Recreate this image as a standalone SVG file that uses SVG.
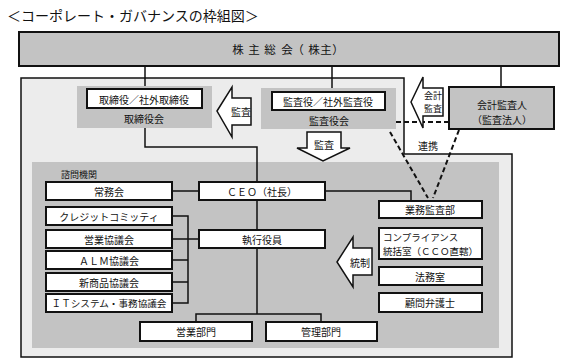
<svg xmlns="http://www.w3.org/2000/svg" width="567" height="364" viewBox="0 0 567 364">
<style>
text{font-family:"Noto Sans CJK JP","Noto Sans CJK SC",sans-serif;font-size:10px;fill:#111;dominant-baseline:central;text-anchor:middle}
.box{fill:#fff;stroke:#111;stroke-width:2}
.gbox{fill:#c3c3c3;stroke:#111;stroke-width:2}
.grp{fill:#c3c3c3}
.ln{fill:none;stroke:#111;stroke-width:1.5}
.dash{fill:none;stroke:#111;stroke-width:2;stroke-dasharray:5 3}
.arr{fill:#fff;stroke:#111;stroke-width:1.5;stroke-linejoin:miter}
</style>
<rect width="567" height="364" fill="#fff"/>
<text x="7" y="15" style="font-size:14px;text-anchor:start">＜コーポレート・ガバナンスの枠組図＞</text>

<g id="frame">
<path d="M21,78 H404 V154 H512 V357 H21 Z" fill="#ececec" stroke="#111" stroke-width="1.5"/>
<rect x="32" y="162" width="467" height="186" class="grp"/>
<text x="61" y="174" style="font-size:9px;text-anchor:start">諮問機関</text>
</g>

<g id="agm">
<rect x="19" y="32" width="540" height="34" class="gbox"/>
<text y="49" x="238 254 270 287 298 314 326 338" style="text-anchor:middle;font-size:11.5px">株主総会（株主）</text>
</g>

<g id="connectors">
<path class="ln" d="M145,66 V89 M332,66 V92 M501,66 V87"/>
<path class="ln" d="M145,128 V147 H257 V182"/>
<path class="ln" d="M257,200 V230 M257,248 V314 M196,322 V314 H321 V322"/>
<path class="ln" d="M172,191 H199 M325,191 H411 V201"/>
<path class="ln" d="M172,216 H188 V303 H172 M172,239 H199 M172,260 H188 M172,282 H188"/>
<path class="dash" d="M396,122 H449"/>
<path class="dash" d="M390,132 L428,198 M459,130 L433,198"/>
<text x="428" y="145">連携</text>
</g>

<g id="board">
<rect x="77" y="86" width="135" height="42" class="grp"/>
<rect x="87" y="89" width="115" height="19" class="box"/>
<text x="144" y="99">取締役／社外取締役</text>
<text x="144" y="118">取締役会</text>
</g>

<g id="kansayakukai">
<rect x="261" y="88" width="135" height="41" class="grp"/>
<rect x="272" y="92" width="113" height="18" class="box"/>
<text x="328" y="101">監査役／社外監査役</text>
<text x="329" y="120">監査役会</text>
</g>

<g id="auditor">
<rect x="449" y="87" width="105" height="42" class="gbox"/>
<text x="502" y="104">会計監査人</text>
<text x="502" y="119">（監査法人）</text>
</g>

<g id="arrow-kansa-left">
<path class="arr" d="M217,111 L232,87 V98 H251 V125 H232 V137 Z"/>
<text x="241" y="111">監査</text>
</g>
<g id="arrow-kansa-down">
<path class="arr" d="M307,132 H341 V148 H350 L323,161 L297,148 H307 Z"/>
<text x="324" y="144">監査</text>
</g>
<g id="arrow-kaikei">
<path class="arr" d="M411,102 L423,77 V88 H443 V116 H423 V128 Z"/>
<text x="433" y="95" style="font-size:9px">会計</text>
<text x="433" y="108" style="font-size:9px">監査</text>
</g>
<g id="arrow-tousei">
<path class="arr" d="M337,262 L353,237 V248 H372 V275 H353 V287 Z"/>
<text x="360" y="262">統制</text>
</g>

<g id="joumukai"><rect x="46" y="182" width="126" height="18" class="box"/><text x="109" y="191">常務会</text></g>
<g id="credit"><rect x="46" y="207" width="126" height="18" class="box"/><text x="109" y="216">クレジットコミッティ</text></g>
<g id="eigyo-kyogi"><rect x="46" y="230" width="126" height="18" class="box"/><text x="109" y="239">営業協議会</text></g>
<g id="alm"><rect x="46" y="251" width="126" height="18" class="box"/><text x="109" y="260">ＡＬＭ協議会</text></g>
<g id="shinshohin"><rect x="46" y="273" width="126" height="18" class="box"/><text x="109" y="282">新商品協議会</text></g>
<g id="it"><rect x="46" y="294" width="126" height="18" class="box"/><text x="109" y="303" style="font-size:9.6px">ＩＴシステム・事務協議会</text></g>

<g id="ceo"><rect x="199" y="182" width="126" height="18" class="box"/><text x="262" y="191">ＣＥＯ（社長）</text></g>
<g id="shikko"><rect x="199" y="230" width="126" height="18" class="box"/><text x="262" y="239">執行役員</text></g>

<g id="eigyobumon"><rect x="140" y="322" width="112" height="19" class="box"/><text x="196" y="331.5">営業部門</text></g>
<g id="kanribumon"><rect x="266" y="322" width="111" height="19" class="box"/><text x="321" y="331.5">管理部門</text></g>

<g id="gyomukansa"><rect x="379" y="201" width="103" height="17" class="box"/><text x="430" y="209.5">業務監査部</text></g>
<g id="compliance"><rect x="379" y="228" width="103" height="31" class="box"/>
<text x="383" y="237" style="text-anchor:start;font-size:9.5px">コンプライアンス</text>
<text x="383" y="251" style="text-anchor:start;font-size:9.5px">統括室（ＣＣＯ直轄）</text></g>
<g id="houmu"><rect x="379" y="267" width="103" height="18" class="box"/><text x="430" y="276">法務室</text></g>
<g id="komon"><rect x="379" y="293" width="103" height="19" class="box"/><text x="430" y="302.5">顧問弁護士</text></g>
</svg>
